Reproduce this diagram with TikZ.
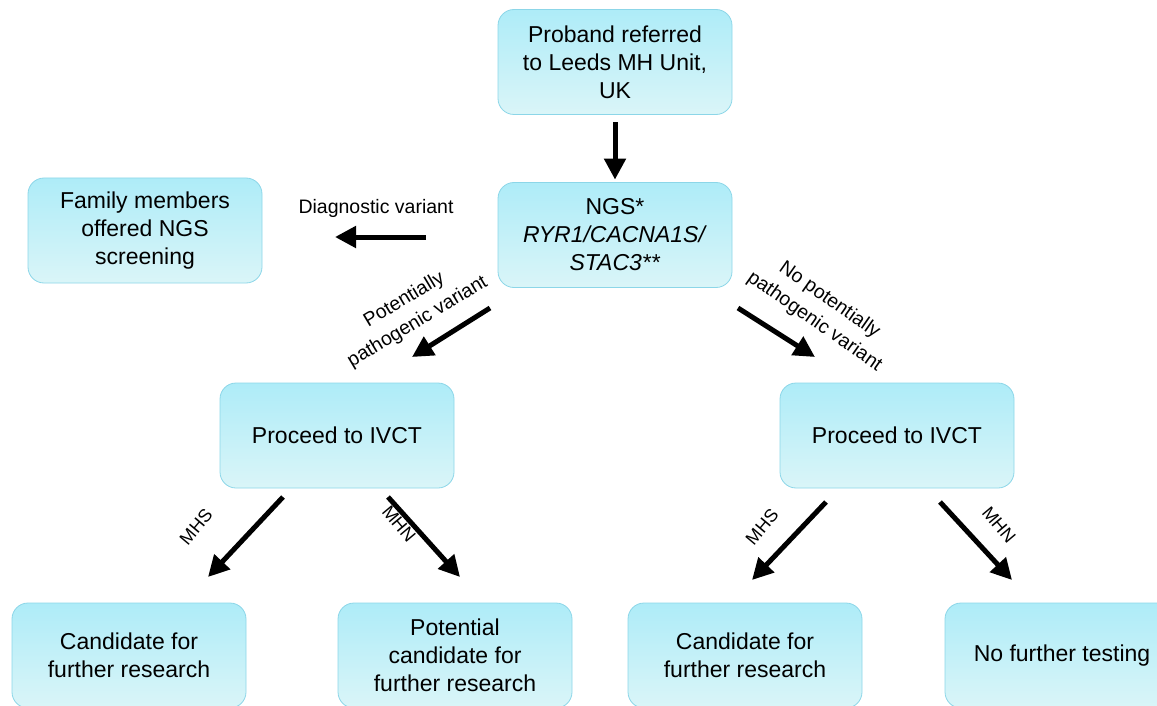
\documentclass[tikz,border=0pt]{standalone}
\usepackage{fontspec}
\setmainfont{Liberation Sans}
\usetikzlibrary{arrows.meta}
\definecolor{boxtop}{RGB}{174,236,248}
\definecolor{boxbot}{RGB}{218,245,248}
\definecolor{boxline}{RGB}{140,214,232}
\tikzset{
  box/.style={draw=boxline, line width=0.8pt, rounded corners=16pt,
    top color=boxtop, bottom color=boxbot, minimum width=234pt,
    minimum height=105pt, align=center, inner sep=0pt,
    font=\fontsize{23}{28}\selectfont},
  flow/.style={line width=5pt, -{Triangle[length=21pt,width=21pt]}},
  lbl/.style={font=\fontsize{19.5}{26}\selectfont, align=center, inner sep=0pt},
  res/.style={font=\fontsize{18}{20}\selectfont, inner sep=0pt}
}
\begin{document}
\begin{tikzpicture}[x=1pt,y=-1pt]
\clip (0,0) rectangle (1157,706);
% boxes
\node[box] (proband) at (615,62) {Proband referred\\to Leeds MH Unit,\\UK};
\node[box] (ngs) at (615,235) {NGS*\\\textit{RYR1/CACNA1S/}\\\textit{STAC3**}};
\node[box] (family) at (145,230.5) {Family members\\offered NGS\\screening};
\node[box] (ivctL) at (337,435.5) {Proceed to IVCT};
\node[box] (ivctR) at (897,435.5) {Proceed to IVCT};
\node[box] (candL) at (129,655.5) {Candidate for\\further research};
\node[box] (potL) at (455,655.5) {Potential\\candidate for\\further research};
\node[box] (candR) at (745,655.5) {Candidate for\\further research};
\node[box] (noTest) at (1062,655.5) {No further testing};
% arrow ends
\coordinate (dvS) at (426,237);
\coordinate (dvE) at (335,237);
\coordinate (pvS) at (490,308);
\coordinate (pvE) at (412,357);
\coordinate (npS) at (738,308);
\coordinate (npE) at (815,357);
\coordinate (lmhsS) at (283,497);
\coordinate (lmhsE) at (208,577);
\coordinate (lmhnS) at (388,497);
\coordinate (lmhnE) at (460,577);
\coordinate (rmhsS) at (826,502);
\coordinate (rmhsE) at (752,580);
\coordinate (rmhnS) at (940,502);
\coordinate (rmhnE) at (1012,580);
% arrows
\draw[flow] ([yshift=-7.5pt]proband.south) -- ([yshift=2.5pt]ngs.north);
\draw[flow] (dvS) -- (dvE);
\draw[flow] (pvS) -- (pvE);
\draw[flow] (npS) -- (npE);
\draw[flow] (lmhsS) -- (lmhsE);
\draw[flow] (lmhnS) -- (lmhnE);
\draw[flow] (rmhsS) -- (rmhsE);
\draw[flow] (rmhnS) -- (rmhnE);
% labels
\node[lbl] (dvLbl) at (376,208) {Diagnostic variant};
\node[lbl, rotate=31] (pvLbl) at (411,311) {Potentially\\pathogenic variant};
\node[lbl, rotate=-35] (npLbl) at (822,311) {No potentially\\pathogenic variant};
\node[res, rotate=50] (lmhsLbl) at (196,527) {MHS};
\node[res, rotate=-50] (lmhnLbl) at (399,524) {MHN};
\node[res, rotate=50] (rmhsLbl) at (762,527) {MHS};
\node[res, rotate=-50] (rmhnLbl) at (999,525) {MHN};
\end{tikzpicture}
\end{document}
